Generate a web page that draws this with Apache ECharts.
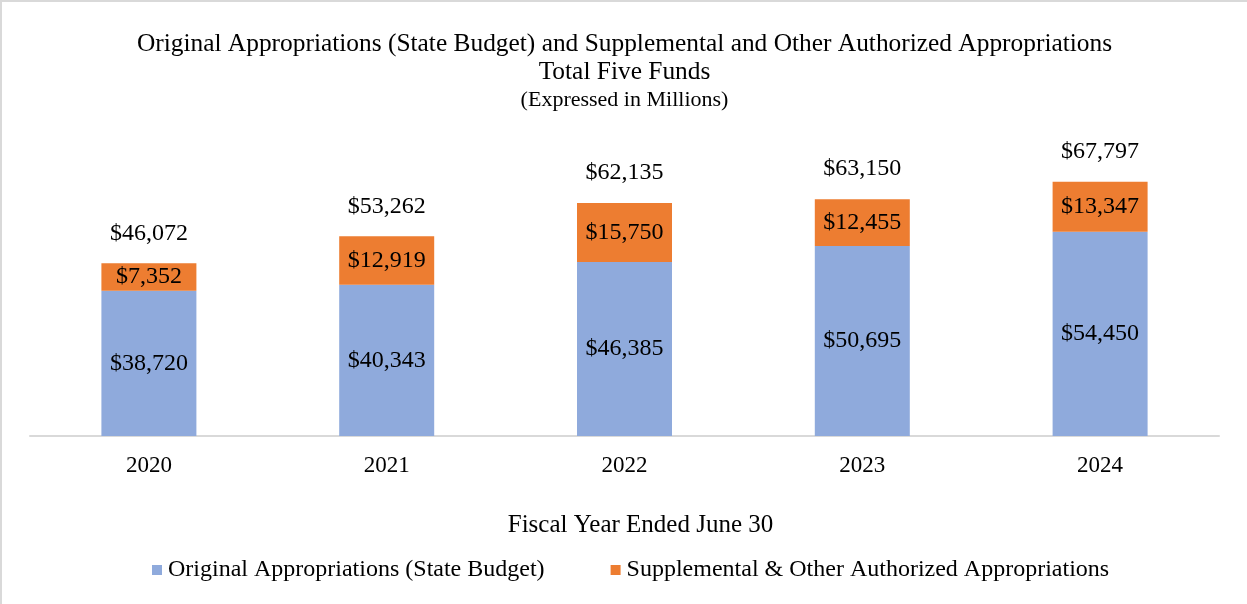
<!DOCTYPE html>
<html>
<head>
<meta charset="utf-8">
<script src="https://cdn.jsdelivr.net/npm/echarts@6/dist/echarts.min.js"></script>
<style>
html,body{margin:0;padding:0;background:#fff;}
#c{width:1245px;height:602px;border-left:2px solid #D9D9D9;border-top:2px solid #D9D9D9;}
</style>
</head>
<body>
<div id="c"></div>
<script>
const categories = ['2020', '2021', '2022', '2023', '2024'];
const originalValues = [38720, 40343, 46385, 50695, 54450];
const supplementalValues = [7352, 12919, 15750, 12455, 13347];
const totalValues = [46072, 53262, 62135, 63150, 67797];
const seriesNames = ['Original Appropriations (State Budget)', 'Supplemental & Other Authorized Appropriations'];

const FONT = '"Liberation Serif", "Times New Roman", serif';
const fmt = v => '$' + v.toLocaleString('en-US');

const chart = echarts.init(document.getElementById('c'));
chart.setOption({
  animation: false,
  textStyle: { fontFamily: FONT, color: '#000' },
  title: [
    { text: 'Original Appropriations (State Budget) and Supplemental and Other Authorized Appropriations', left: 'center', top: 25, textStyle: { fontFamily: FONT, fontSize: 25.4, fontWeight: 'normal', color: '#000' } },
    { text: 'Total Five Funds', left: 'center', top: 53, textStyle: { fontFamily: FONT, fontSize: 25.4, fontWeight: 'normal', color: '#000' } },
    { text: '(Expressed in Millions)', left: 'center', top: 82, textStyle: { fontFamily: FONT, fontSize: 22, fontWeight: 'normal', color: '#000' } }
  ],
  legend: {
    data: seriesNames,
    bottom: 17,
    left: 145,
    icon: 'rect',
    itemWidth: 10,
    itemHeight: 10,
    itemGap: 66,
    textStyle: { fontFamily: FONT, fontSize: 24, color: '#000', padding: [0, 0, 0, 1] }
  },
  grid: { left: 28, right: 28, top: 134, bottom: 168 },
  xAxis: {
    type: 'category',
    data: categories,
    name: 'Fiscal Year Ended June 30',
    nameLocation: 'middle',
    nameGap: 77,
    nameTextStyle: { fontFamily: FONT, fontSize: 25, color: '#000', padding: [0, 0, 0, 32] },
    axisLine: { lineStyle: { color: '#D9D9D9', width: 2 } },
    axisTick: { show: false },
    axisLabel: { fontFamily: FONT, fontSize: 23, color: '#000', margin: 18 }
  },
  yAxis: {
    type: 'value',
    min: 0,
    max: 80000,
    show: false,
    splitLine: { show: false }
  },
  series: [
    {
      name: seriesNames[0],
      type: 'bar',
      stack: 'total',
      barWidth: 95,
      data: originalValues,
      itemStyle: { color: '#8FAADC' },
      label: { show: true, position: 'inside', formatter: p => fmt(p.value), fontFamily: FONT, fontSize: 24, color: '#000' }
    },
    {
      name: seriesNames[1],
      type: 'bar',
      stack: 'total',
      barWidth: 95,
      data: supplementalValues,
      itemStyle: { color: '#ED7D31' },
      label: { show: true, position: 'inside', formatter: p => fmt(p.value), fontFamily: FONT, fontSize: 24, color: '#000' }
    },
    {
      name: 'Total',
      type: 'bar',
      stack: 'total',
      barWidth: 95,
      data: totalValues.map(() => 0),
      itemStyle: { color: 'rgba(0,0,0,0)' },
      label: { show: true, position: 'top', distance: 18, formatter: p => fmt(totalValues[p.dataIndex]), fontFamily: FONT, fontSize: 24, color: '#000' }
    }
  ]
});
</script>
</body>
</html>
